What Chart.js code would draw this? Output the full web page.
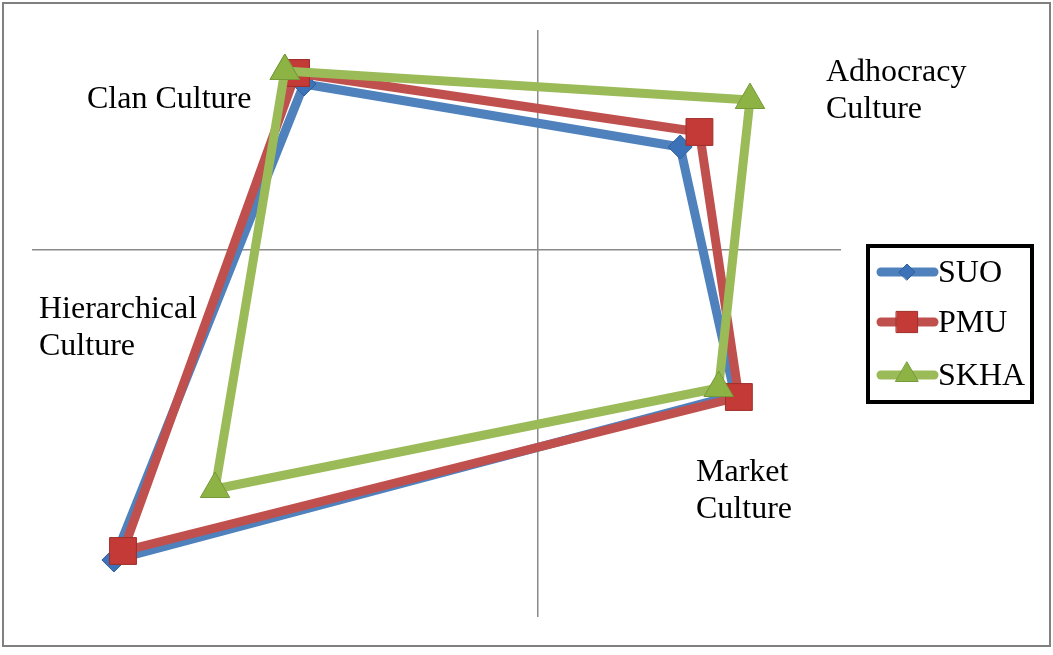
<!DOCTYPE html>
<html>
<head>
<meta charset="utf-8">
<script src="https://cdn.jsdelivr.net/npm/chart.js@4.4.1/dist/chart.umd.min.js"></script>
<style>
  html, body { margin: 0; padding: 0; background: #fff; }
  #wrap { width: 1053px; height: 655px; position: relative; }
</style>
</head>
<body>
<div id="wrap"><canvas id="c" width="1053" height="655"></canvas></div>
<script>
// Quadrant order: Clan, Adhocracy, Market, Hierarchy (closed back to Clan)
const categories = ['Clan Culture', 'Adhocracy Culture', 'Market Culture', 'Hierarchical Culture'];
const seriesNames = ['SUO', 'PMU', 'SKHA'];
const suoX  = [-23.1, 14.1, 19.5, -41.9];
const suoY  = [ 16.6, 10.3, -14.5, -31.0];
const pmuX  = [-23.9, 16.0, 19.9, -41.0];
const pmuY  = [ 17.7, 11.8, -14.7, -30.1];
const skhaX = [-25.0, 21.0, 17.9, -31.9];
const skhaY = [ 17.9, 15.0, -13.8, -23.9];

function closedPoints(xs, ys) {
  const pts = xs.map((x, i) => ({ x: x, y: ys[i] }));
  pts.push({ x: xs[0], y: ys[0] });
  return pts;
}

const styles = [
  { line: '#4F81BD', fill: '#3C72B8', border: '#2F5E9A', shape: 'rectRot', r: 12, lr: 8 },
  { line: '#C0504D', fill: '#C33A36', border: '#9E2F2C', shape: 'rect', r: 19, lr: 15 },
  { line: '#9BBB59', fill: '#8DB344', border: '#76993A', shape: 'triangle', r: 17, lr: 13 }
];
const allX = [suoX, pmuX, skhaX];
const allY = [suoY, pmuY, skhaY];

const datasets = seriesNames.map((name, i) => ({
  label: name,
  data: closedPoints(allX[i], allY[i]),
  showLine: true,
  borderColor: styles[i].line,
  borderWidth: 9,
  borderJoinStyle: 'round',
  borderCapStyle: 'round',
  pointStyle: styles[i].shape,
  pointRadius: styles[i].r,
  pointHoverRadius: styles[i].r,
  pointBackgroundColor: styles[i].fill,
  pointBorderColor: styles[i].border,
  pointBorderWidth: 1,
  order: 3 - i,
  tension: 0
}));

const quadrantLabels = [
  { lines: ['Clan Culture'], x: 87, y: 97 },
  { lines: ['Adhocracy', 'Culture'], x: 826, y: 70 },
  { lines: ['Hierarchical', 'Culture'], x: 39, y: 307 },
  { lines: ['Market', 'Culture'], x: 696, y: 470 }
];

function drawShape(ctx, shape, r, x, y) {
  if (shape === 'rect') {
    const h = r * Math.SQRT1_2;
    ctx.rect(x - h, y - h, 2 * h, 2 * h);
  } else if (shape === 'rectRot') {
    ctx.moveTo(x - r, y); ctx.lineTo(x, y - r); ctx.lineTo(x + r, y); ctx.lineTo(x, y + r); ctx.closePath();
  } else {
    const a = 2 * Math.PI / 3;
    ctx.moveTo(x, y - r);
    ctx.lineTo(x + Math.sin(a) * r, y - Math.cos(a) * r);
    ctx.lineTo(x + Math.sin(2 * a) * r, y - Math.cos(2 * a) * r);
    ctx.closePath();
  }
}

const FONT = '32px "Liberation Serif", "Times New Roman", serif';

const decor = {
  id: 'decor',
  beforeDraw(chart) {
    const ctx = chart.ctx;
    ctx.save();
    ctx.fillStyle = '#fff';
    ctx.fillRect(0, 0, chart.width, chart.height);
    ctx.strokeStyle = '#808080';
    ctx.lineWidth = 2;
    ctx.strokeRect(3, 3, 1047, 643);
    ctx.restore();
  },
  afterDraw(chart) {
    const ctx = chart.ctx;
    ctx.save();
    ctx.fillStyle = '#000';
    ctx.font = FONT;
    ctx.textBaseline = 'middle';
    ctx.textAlign = 'left';
    quadrantLabels.forEach(l => {
      l.lines.forEach((t, k) => ctx.fillText(t, l.x, l.y + 3 + k * 37));
    });
    // legend
    ctx.lineWidth = 4;
    ctx.strokeStyle = '#000';
    ctx.strokeRect(868, 246, 164, 156);
    const rows = [272, 322, 375];
    seriesNames.forEach((name, i) => {
      const y = rows[i];
      const s = styles[i];
      ctx.strokeStyle = s.line;
      ctx.lineWidth = 9;
      ctx.lineCap = 'round';
      ctx.beginPath();
      ctx.moveTo(881, y);
      ctx.lineTo(934, y);
      ctx.stroke();
      ctx.fillStyle = s.fill;
      ctx.strokeStyle = s.border;
      ctx.lineWidth = 1;
      ctx.beginPath();
      drawShape(ctx, s.shape, s.lr, 907, y);
      ctx.fill();
      ctx.stroke();
      ctx.fillStyle = '#000';
      ctx.font = FONT;
      ctx.fillText(name, 938, y + 2);
    });
    ctx.restore();
  }
};

const zeroOnly = axis => { axis.ticks = [{ value: 0 }]; };

new Chart(document.getElementById('c'), {
  type: 'scatter',
  data: { datasets },
  plugins: [decor],
  options: {
    responsive: false,
    animation: false,
    layout: { padding: { left: 32, top: 30, right: 212, bottom: 38 } },
    plugins: { legend: { display: false }, tooltip: { enabled: false } },
    scales: {
      x: {
        type: 'linear', min: -50, max: 30,
        afterBuildTicks: zeroOnly,
        ticks: { display: false },
        border: { display: false },
        grid: { color: '#8a8a8a', lineWidth: 1.5, drawTicks: false }
      },
      y: {
        type: 'linear', min: -36.7, max: 22,
        afterBuildTicks: zeroOnly,
        ticks: { display: false },
        border: { display: false },
        grid: { color: '#8a8a8a', lineWidth: 1.5, drawTicks: false }
      }
    }
  }
});
</script>
</body>
</html>
